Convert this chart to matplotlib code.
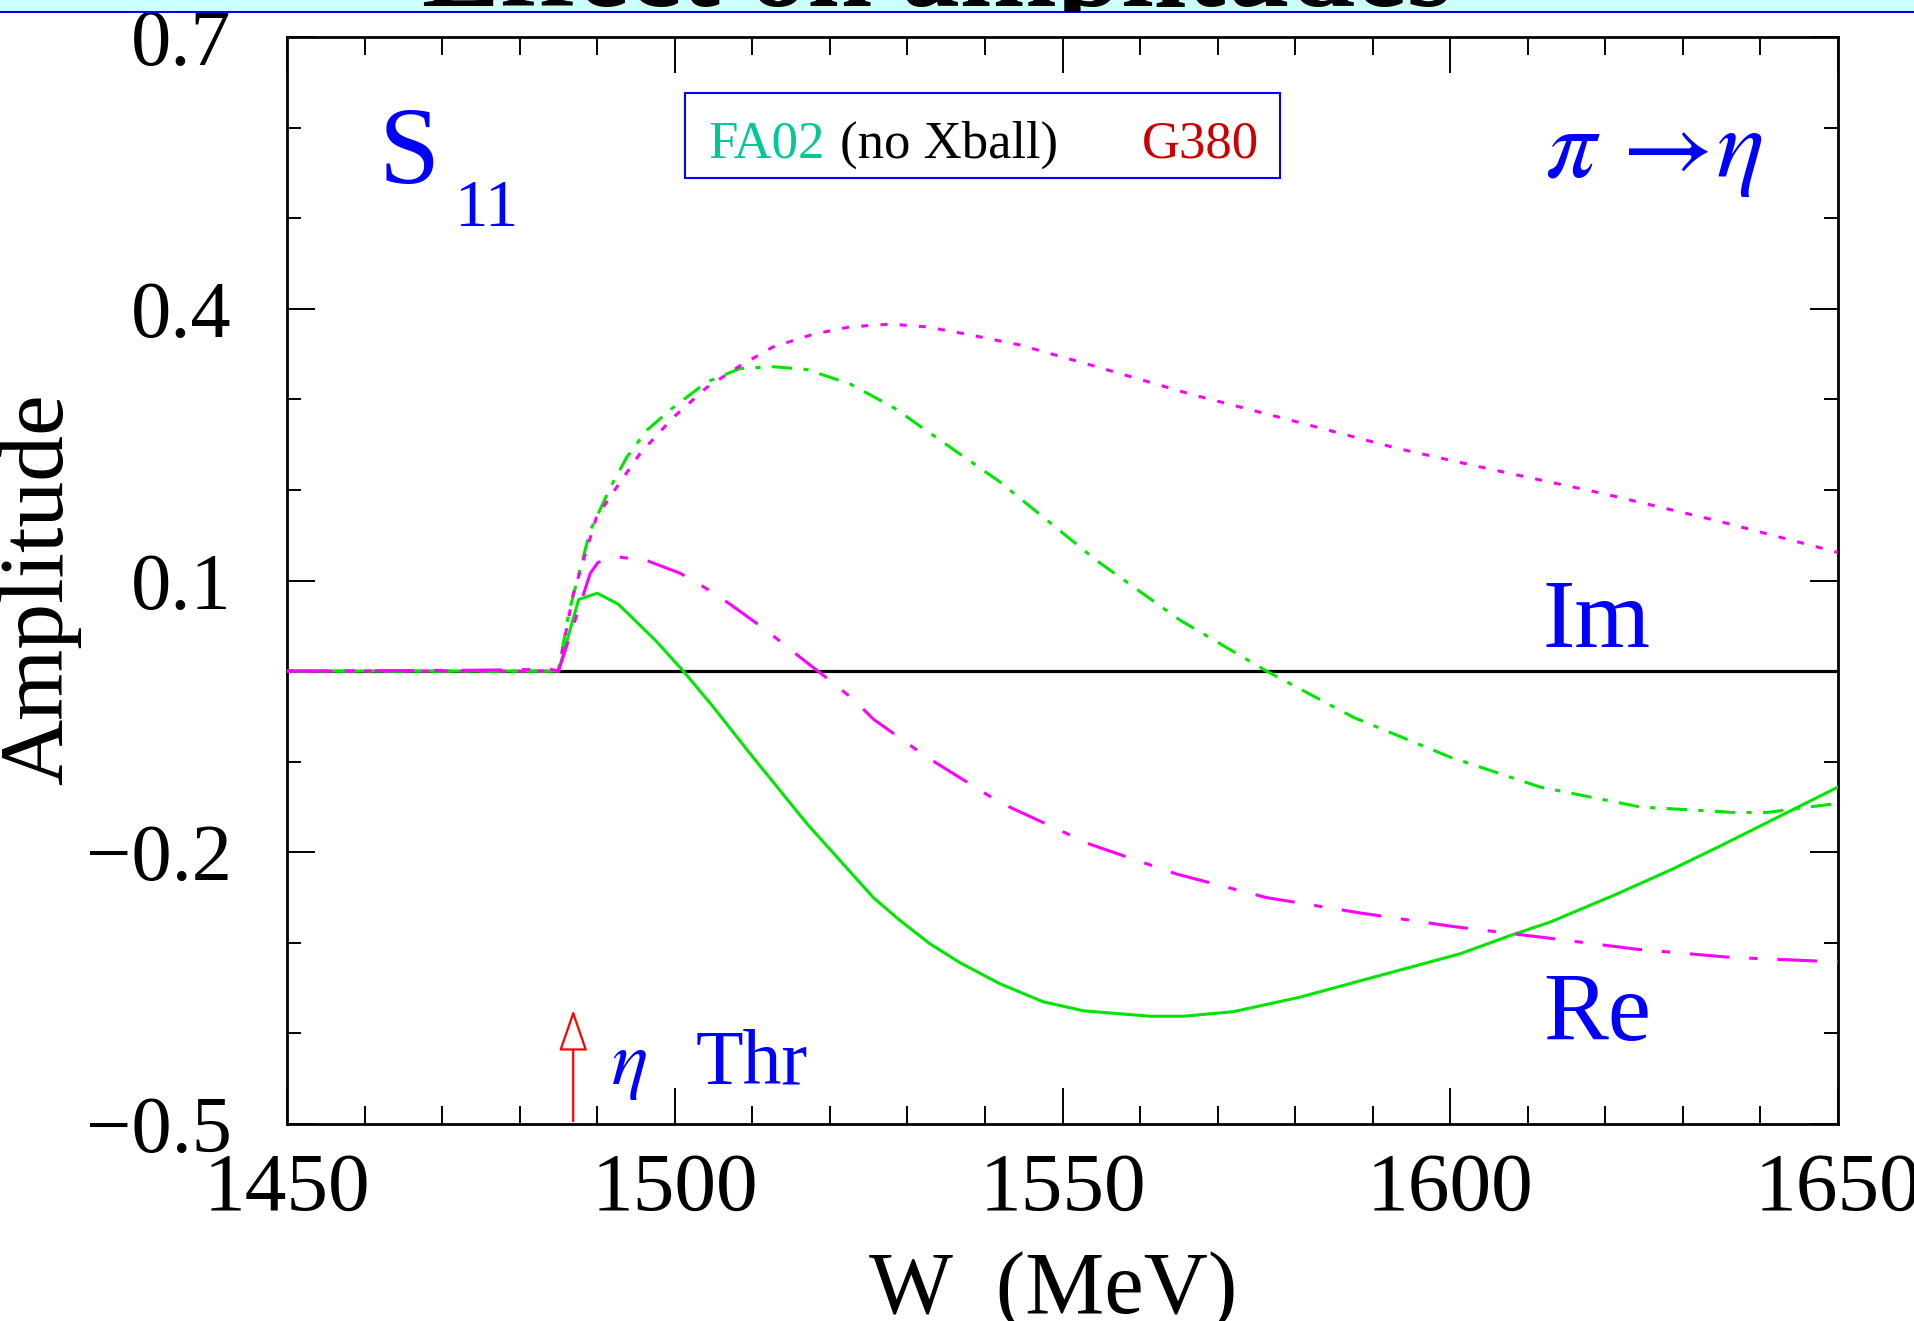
import matplotlib
matplotlib.use("Agg")
import matplotlib.pyplot as plt
from matplotlib.patches import Rectangle, FancyArrowPatch
from matplotlib.ticker import FixedLocator, MultipleLocator

# ---------------- data ----------------
w_re_fa02 = [1450, 1460, 1470, 1480, 1485.0, 1487.6, 1490.0, 1492.7, 1497.5, 1501.1,
             1505.0, 1509.7, 1517.0, 1521.3, 1525.6, 1529.0, 1532.9, 1536.8, 1541.9,
             1547.5, 1552.7, 1561.3, 1565.6, 1572.0, 1580.6, 1589.2, 1601.3, 1607.7,
             1612.9, 1621.5, 1628.8, 1635.3, 1640.9, 1650]
a_re_fa02 = [0, 0, 0, 0, 0, 0.079, 0.086, 0.074, 0.034, 0.0,
             -0.040, -0.091, -0.168, -0.209, -0.250, -0.275, -0.301, -0.322, -0.345,
             -0.365, -0.375, -0.381, -0.381, -0.376, -0.360, -0.340, -0.312, -0.292,
             -0.277, -0.246, -0.218, -0.191, -0.167, -0.128]

w_im_fa02 = [1450, 1485.0, 1486.3, 1487.4, 1489.1, 1491.7, 1493.8, 1496.4, 1499.8,
             1504.1, 1508.4, 1512.7, 1517.0, 1522.6, 1528.2, 1534.2, 1541.9, 1554.4,
             1565.2, 1576.3, 1587.5, 1600.0, 1611.6, 1624.5, 1636.5, 1640.9, 1650]
a_im_fa02 = [0, 0, 0.063, 0.100, 0.155, 0.203, 0.236, 0.266, 0.291,
             0.319, 0.334, 0.336, 0.333, 0.317, 0.291, 0.255, 0.209, 0.122,
             0.056, 0.0, -0.051, -0.095, -0.128, -0.150, -0.156, -0.156, -0.146]

w_im_g380 = [1450, 1485.0, 1486.9, 1489.9, 1492.5, 1495.5, 1499.8, 1504.1, 1508.4,
             1512.7, 1517.9, 1522.6, 1527.8, 1532.5, 1537.6, 1544.5, 1554.4, 1566.4,
             1578.5, 1593.1, 1605.1, 1619.7, 1634.4, 1650]
a_im_g380 = [0, 0, 0.085, 0.170, 0.203, 0.240, 0.280, 0.313, 0.337,
             0.358, 0.372, 0.380, 0.383, 0.380, 0.372, 0.360, 0.336, 0.306,
             0.279, 0.246, 0.223, 0.196, 0.166, 0.131]

w_re_g380 = [1450, 1475, 1484, 1485.0, 1489.1, 1490.1, 1492.7, 1496.4, 1500.7, 1504.1,
             1507.1, 1511.8, 1516.2, 1519.2, 1523.0, 1525.6, 1532.5, 1541.9, 1553.5,
             1564.7, 1576.3, 1588.4, 1600.4, 1612.0, 1624.0, 1636.1, 1650]
a_re_g380 = [0, 0.001, 0.002, 0.0, 0.108, 0.120, 0.126, 0.122, 0.108, 0.091,
             0.074, 0.045, 0.015, -0.005, -0.031, -0.053, -0.095, -0.145, -0.191,
             -0.224, -0.250, -0.267, -0.282, -0.294, -0.307, -0.316, -0.321]

eta_threshold = 1486.9
arrow_top = -0.371

x_major = [1450, 1500, 1550, 1600, 1650]
y_major = [-0.5, -0.2, 0.1, 0.4, 0.7]
y_major_labels = ["\u22120.5", "\u22120.2", "0.1", "0.4", "0.7"]

# ---------------- style ----------------
plt.rcParams['font.family'] = ['Liberation Serif', 'DejaVu Serif']
plt.rcParams['mathtext.fontset'] = 'stix'

GREEN = '#00e600'
MAGENTA = '#ff00ff'
BLUE = '#0000ff'

fig = plt.figure(figsize=(19.15, 13.21), dpi=100)
ax = fig.add_axes([0.1499, 0.1491, 0.8099, 0.8229])

lw = 2.2
ax.axhline(0, color='black', lw=2.3, zorder=1)
ax.plot(w_re_fa02, a_re_fa02, color=GREEN, lw=lw, zorder=3)
ax.plot(w_im_fa02, a_im_fa02, color=GREEN, lw=lw, dashes=(6.7, 3.7, 1.7, 3.7), zorder=3)
ax.plot(w_im_g380, a_im_g380, color=MAGENTA, lw=lw, dashes=(2.3, 4.0), zorder=3)
ax.plot(w_re_g380, a_re_g380, color=MAGENTA, lw=lw, dashes=(13, 6.5, 2.7, 6.5), zorder=3)

ax.set_xlim(1450, 1650)
ax.set_ylim(-0.5, 0.7)
ax.xaxis.set_major_locator(FixedLocator(x_major))
ax.xaxis.set_minor_locator(MultipleLocator(10))
ax.yaxis.set_major_locator(FixedLocator(y_major))
ax.yaxis.set_minor_locator(MultipleLocator(0.1))
ax.set_yticklabels(y_major_labels)

ax.tick_params(axis='both', which='both', direction='in', top=True, right=True,
               width=1.4, color='black')
ax.tick_params(axis='x', which='major', length=26, labelsize=60, pad=20)
ax.tick_params(axis='x', which='minor', length=13)
ax.tick_params(axis='y', which='major', length=20, labelsize=58, pad=40)
ax.tick_params(axis='y', which='minor', length=10)
for s in ax.spines.values():
    s.set_linewidth(2.0)

# threshold arrow
arr = FancyArrowPatch((eta_threshold, -0.5), (eta_threshold, arrow_top),
                      arrowstyle='-|>,head_length=1.3,head_width=0.45',
                      mutation_scale=20, color='red', lw=1.6, fc='white', ec='red',
                      zorder=4)
ax.add_patch(arr)

# annotations
fig.text(0.1979, 1 - 183 / 1321, 'S', color=BLUE, fontsize=79, ha='left', va='baseline')
fig.text(0.2371, 1 - 226 / 1321, '11', color=BLUE, fontsize=48, ha='left', va='baseline')
fig.text(1545 / 1915, 1 - 177 / 1321, r'$\pi\,\rightarrow\!\eta$', color=BLUE,
         fontsize=72, ha='left', va='baseline')
fig.text(1543 / 1915, 1 - 647 / 1321, 'Im', color=BLUE, fontsize=70, ha='left', va='baseline')
fig.text(1543 / 1915, 1 - 1040 / 1321, 'Re', color=BLUE, fontsize=70, ha='left', va='baseline')
fig.text(611 / 1915, 1 - 1084 / 1321, r'$\eta$', color=BLUE, fontsize=55, ha='left', va='baseline')
fig.text(696 / 1915, 1 - 1084 / 1321, 'Thr', color=BLUE, fontsize=56, ha='left', va='baseline')

# legend box
box = Rectangle((685 / 1915, 1 - 178 / 1321), 595 / 1915, 85 / 1321,
                transform=fig.transFigure, fill=False, ec=BLUE, lw=1.5, zorder=5)
fig.patches.append(box)
ly = 1 - 158 / 1321
fig.text(708 / 1915, ly, 'FA02', color='#00c896', fontsize=38, ha='left', va='baseline')
fig.text(840 / 1915, ly, '(no Xball)', color='black', fontsize=38, ha='left', va='baseline')
fig.text(1142 / 1915, ly, 'G380', color='#cc0000', fontsize=38, ha='left', va='baseline')

# axis labels
fig.text(1053 / 1915, 1 - 1313 / 1321, 'W  (MeV)', fontsize=64, ha='center', va='baseline')
fig.text(40 / 1915, 1 - 589 / 1321, 'Amplitude', fontsize=66,
         rotation=90, ha='center', va='center')

# top banner (slide title strip, mostly cut off)
strip = Rectangle((0, 1 - 12 / 1321), 1, 12 / 1321, transform=fig.transFigure,
                  fc='#ccffff', ec='none', zorder=10)
fig.patches.append(strip)
line = Rectangle((0, 1 - 13 / 1321), 1, 2 / 1321, transform=fig.transFigure,
                 fc='#0000ee', ec='none', zorder=11)
fig.patches.append(line)
t = fig.text(937 / 1915, 1 - 6 / 1321, 'Effect on amplitudes', fontsize=84,
             fontweight='bold', ha='center', va='baseline', zorder=12)
t.set_clip_path(strip)

fig.savefig('out.png', dpi=100)
